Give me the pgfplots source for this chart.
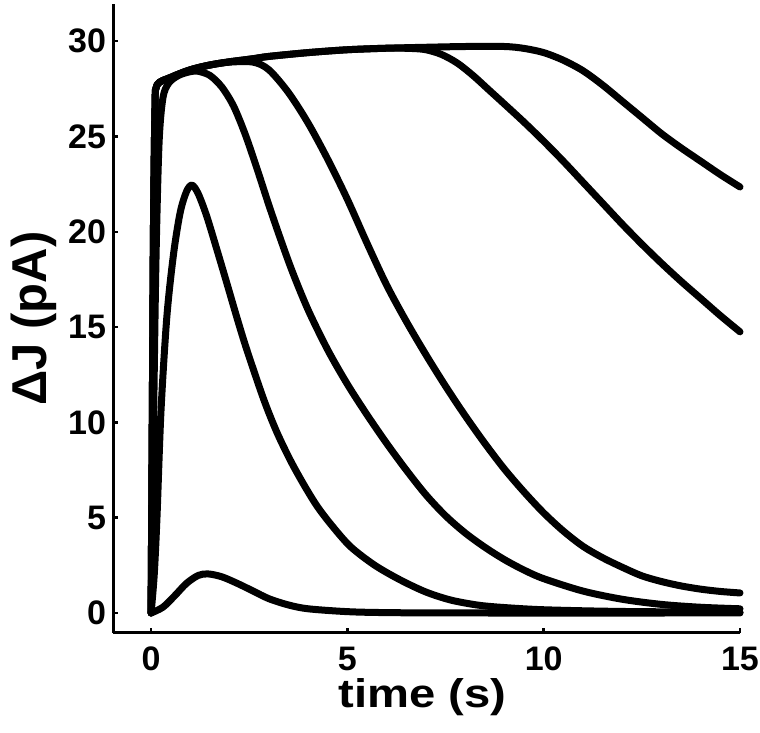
\documentclass[border=0pt]{standalone}
\usepackage{fontspec}
\setmainfont{Liberation Sans}
\newfontfamily\lblfont[FakeStretch=1.18]{Liberation Sans}
\usepackage{pgfplots}
\pgfplotsset{compat=1.18}
\begin{document}
\begin{tikzpicture}
\begin{axis}[
  scale only axis,
  width=313.5pt, height=314.5pt,
  xmin=-0.97, xmax=15, ymin=-1.05, ymax=31.95,
  axis x line*=bottom, axis y line*=left,
  axis line style={-, line width=1.5pt, black},
  xtick={0,5,10,15}, ytick={0,5,10,15,20,25,30},
  tick align=inside,
  major tick length=2.5pt,
  every tick/.style={black, line width=1.2pt},
  /pgf/number format/assume math mode=true,
  ticklabel style={font=\bfseries\fontsize{17}{17}\selectfont},
  xticklabel style={yshift=-3.5pt},
  xlabel={time (s)},
  ylabel={ΔJ (pA)},
  xlabel style={font=\lblfont\bfseries\fontsize{20}{20}\selectfont, at={(axis description cs:0.494,-0.118)}, anchor=base},
  ylabel style={font=\bfseries\fontsize{24.5}{24.5}\selectfont, at={(axis description cs:-0.106,0.5)}, anchor=base},
  clip=false,
  curve/.style={black, line width=3.5pt, smooth, tension=0.5, line cap=round, line join=round, mark=none},
]
% curve A
\addplot[curve] coordinates {(0,0) (0.3,0.3) (0.6,0.9) (0.9,1.55) (1.2,1.97) (1.45,2.05) (1.8,1.9) (2.2,1.55) (2.6,1.15) (3.0,0.75) (3.5,0.42) (4.0,0.22) (5.0,0.07) (6.0,0.02) (8.0,0) (15,0)};
% curve B
\addplot[curve] coordinates {(0,0) (0.08,2) (0.15,5) (0.25,10.5) (0.4,15.5) (0.57,18.8) (0.74,21.0) (0.9,22.1) (1.04,22.45) (1.2,22.0) (1.42,20.8) (1.7,18.9) (1.93,17.3) (2.2,15.4) (2.44,13.8) (2.87,11.2) (3.2,9.5) (3.55,8.0) (3.9,6.7) (4.23,5.6) (4.6,4.6) (5.08,3.48) (5.7,2.5) (6.35,1.73) (7.0,1.1) (7.63,0.68) (8.3,0.42) (8.9,0.3) (10,0.17) (12,0.08) (15,0.04)};
% curve C
\addplot[curve] coordinates {(0,0) (0.05,8) (0.12,18) (0.2,24.5) (0.3,27.0) (0.45,27.8) (0.7,28.2) (1.0,28.4) (1.2,28.42) (1.5,28.2) (1.8,27.6) (2.1,26.6) (2.4,25.1) (2.7,23.3) (3.0,21.4) (3.3,19.6) (3.6,17.9) (4.0,15.9) (4.5,13.8) (5.0,12.0) (5.5,10.4) (6.0,8.9) (6.5,7.5) (7.0,6.2) (7.5,5.1) (8.0,4.2) (8.5,3.45) (9,2.8) (9.5,2.25) (10,1.8) (11,1.15) (12,0.72) (13,0.45) (14,0.3) (15,0.22)};
% curve D
\addplot[curve] coordinates {(0,0) (0.03,10) (0.06,20) (0.1,26.5) (0.15,27.7) (0.5,28.1) (1,28.5) (1.5,28.75) (2.0,28.9) (2.6,28.9) (3.0,28.5) (3.5,27.3) (4.0,25.7) (4.5,23.8) (5.0,21.7) (5.5,19.4) (6.0,17.2) (6.5,15.3) (7.0,13.55) (7.5,11.9) (8.0,10.35) (8.5,8.9) (9.0,7.55) (9.5,6.35) (10,5.25) (10.5,4.3) (11,3.5) (11.5,2.9) (12,2.4) (12.5,1.95) (13,1.65) (13.5,1.42) (14,1.25) (14.5,1.13) (15,1.05)};
% curve E
\addplot[curve] coordinates {(0,0) (0.03,10) (0.06,20) (0.1,26.5) (0.15,27.7) (0.5,28.1) (1,28.5) (1.5,28.75) (2,28.92) (2.6,29.08) (3,29.2) (4,29.4) (5,29.55) (6,29.63) (6.6,29.62) (7.0,29.55) (7.4,29.3) (7.8,28.85) (8.2,28.2) (8.6,27.45) (9.0,26.7) (9.5,25.75) (10,24.75) (10.5,23.7) (11,22.6) (11.5,21.5) (12,20.4) (12.5,19.35) (13,18.35) (13.5,17.4) (14,16.5) (14.5,15.6) (15,14.75)};
% curve F
\addplot[curve] coordinates {(0,0) (0.03,10) (0.06,20) (0.1,26.5) (0.15,27.7) (0.5,28.1) (1,28.5) (1.5,28.75) (2,28.92) (2.6,29.08) (3,29.2) (4,29.4) (5,29.55) (6,29.63) (7,29.68) (8,29.72) (9,29.72) (9.5,29.62) (10,29.4) (10.5,29.0) (11,28.45) (11.5,27.7) (12,26.85) (12.5,26.0) (13,25.15) (13.5,24.4) (14,23.7) (14.5,23.0) (15,22.35)};
\coordinate (sw) at (rel axis cs:0,0);
\end{axis}
\pgfresetboundingbox
\path (sw) ++(-56.5pt,-50pt) rectangle ++(380pt,366.5pt);
\end{tikzpicture}
\end{document}
